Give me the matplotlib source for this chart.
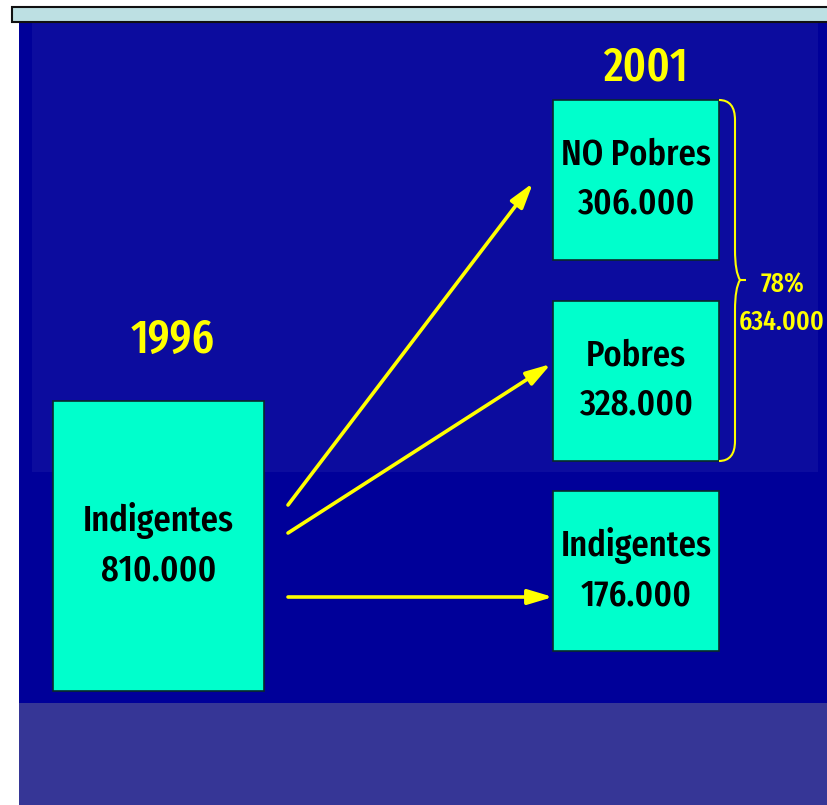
import matplotlib
matplotlib.use("Agg")
import matplotlib.pyplot as plt
from matplotlib.patches import Rectangle, FancyArrowPatch, PathPatch
from matplotlib.path import Path
from matplotlib import font_manager

# data
year_from = "1996"
year_to = "2001"
source_label = "Indigentes"
source_value = "810.000"
target_labels = ["NO Pobres", "Pobres", "Indigentes"]
target_values = ["306.000", "328.000", "176.000"]
brace_pct = "78%"
brace_total = "634.000"

names = {f.name for f in font_manager.fontManager.ttflist}
cands = ["Fira Sans Extra Condensed", "PT Sans Narrow", "Fira Sans Condensed", "Roboto Condensed",
         "Open Sans Condensed", "DejaVu Sans"]
FONT = [c for c in cands if c in names][:1] + ["DejaVu Sans"]
KW = dict(family=FONT, fontstretch="condensed", weight=500)
CYAN = "#00ffcc"
YEL = "#ffff00"

fig = plt.figure(figsize=(8.28, 8.05), dpi=100)
ax = fig.add_axes([0, 0, 1, 1])
ax.set_xlim(0, 828)
ax.set_ylim(805, 0)
ax.axis("off")

# backgrounds
ax.add_patch(Rectangle((19, 20), 809, 683, facecolor="#000099", edgecolor="none"))
ax.add_patch(Rectangle((32, 20), 786, 452, facecolor="#0c0c9e", edgecolor="none"))
ax.add_patch(Rectangle((19, 703), 809, 102, facecolor="#363696", edgecolor="none"))
ax.add_patch(Rectangle((12, 7), 820, 15, facecolor="#bde0e3", edgecolor="#111111", lw=1.5))

# years
ax.text(645, 68, year_to, color=YEL, fontsize=34, ha="center", va="center", **KW)
ax.text(173, 340, year_from, color=YEL, fontsize=34, ha="center", va="center", **KW)

# source box
ax.add_patch(Rectangle((53, 401), 211, 290, facecolor=CYAN, edgecolor="#0a2a2a", lw=1.2))
ax.text(158.5, 545, f"{source_label}\n{source_value}", color="black", fontsize=27,
        ha="center", va="center", linespacing=1.5, **KW)

# target boxes
tops = [100, 301, 491]
for lab, val, t in zip(target_labels, target_values, tops):
    ax.add_patch(Rectangle((553, t), 166, 160, facecolor=CYAN, edgecolor="#0a2a2a", lw=1.2))
    ax.text(636, t + 79, f"{lab}\n{val}", color="black", fontsize=27,
            ha="center", va="center", linespacing=1.5, **KW)

# arrows
arrows = [((288, 505), (533, 183)), ((288, 533), (551, 364)), ((288, 597), (553, 597))]
for (x0, y0), (x1, y1) in arrows:
    ax.add_patch(FancyArrowPatch((x0, y0), (x1, y1), arrowstyle="-|>,head_length=5,head_width=1.5",
                                 color=YEL, lw=2.6, mutation_scale=3, shrinkA=0, shrinkB=0))

# brace
xb, ytop, ybot, ymid = 719, 100, 461, 280
verts = [(xb, ytop), (735, ytop), (735, ytop + 20), (735, ymid - 30),
         (735, ymid - 8), (740, ymid), (746, ymid),
         (740, ymid), (735, ymid + 8), (735, ymid + 30),
         (735, ybot - 20), (735, ybot), (xb, ybot)]
codes = [Path.MOVETO, Path.CURVE3, Path.CURVE3, Path.LINETO,
         Path.CURVE3, Path.CURVE3, Path.LINETO,
         Path.MOVETO, Path.CURVE3, Path.CURVE3,
         Path.LINETO, Path.CURVE3, Path.CURVE3]
ax.add_patch(PathPatch(Path(verts, codes), facecolor="none", edgecolor=YEL, lw=1.5))
ax.text(783, 285, brace_pct, color=YEL, fontsize=20, ha="center", va="center", **KW)
ax.text(782, 322, brace_total, color=YEL, fontsize=20, ha="center", va="center", **KW)

fig.savefig("out.png", dpi=100)
